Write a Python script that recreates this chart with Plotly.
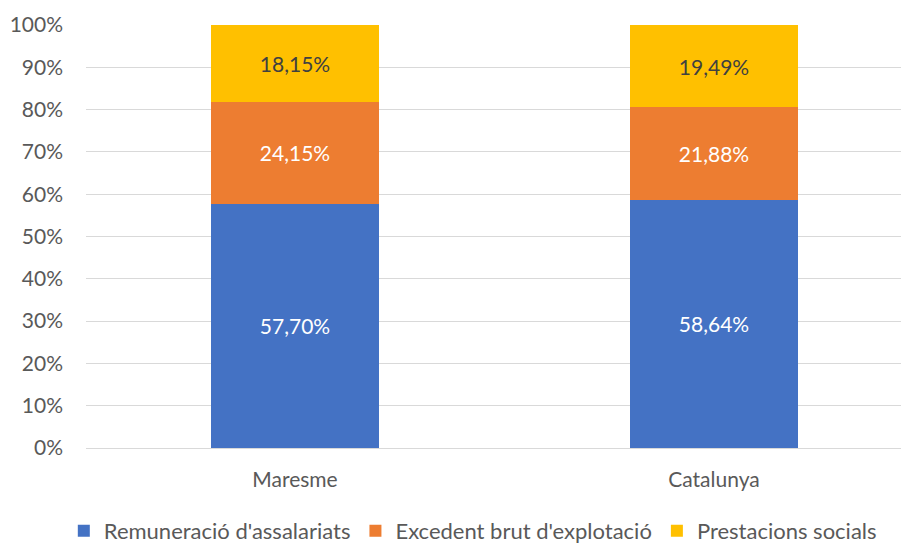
import plotly.graph_objects as go

categories = ["Maresme", "Catalunya"]
series_names = ["Remuneració d'assalariats", "Excedent brut d'explotació", "Prestacions socials"]
remuneracio = [57.70, 58.64]
excedent = [24.15, 21.88]
prestacions = [18.15, 19.49]
colors = ["#4472C4", "#ED7D31", "#FFC000"]
text_colors = ["#FFFFFF", "#FFFFFF", "#404040"]
y_ticks = [0, 10, 20, 30, 40, 50, 60, 70, 80, 90, 100]
y_tick_labels = [f"{v}%" for v in y_ticks]

FONT = "Lato"
FS = 21

fig = go.Figure()
for name, vals, col, tcol in zip(series_names, [remuneracio, excedent, prestacions], colors, text_colors):
    fig.add_trace(go.Bar(
        x=categories, y=vals, name=name,
        marker=dict(color=col, line=dict(width=0)),
        width=0.4,
        text=[f"{v:.2f}".replace(".", ",") + "%" for v in vals],
        texttemplate="%{text}",
        textposition="inside",
        insidetextanchor="middle",
        textangle=0,
        textfont=dict(family=FONT, size=FS, color=tcol),
        constraintext="none",
    ))

fig.update_layout(
    barmode="stack",
    width=901, height=535,
    margin=dict(l=78, r=0, t=17, b=95, autoexpand=False),
    paper_bgcolor="white", plot_bgcolor="white",
    font=dict(family=FONT, size=FS, color="#595959"),
    showlegend=True,
    legend=dict(orientation="h", x=0.47, xanchor="center", y=-0.196, yanchor="middle",
                font=dict(family=FONT, size=22, color="#595959"),
                traceorder="normal", itemwidth=30, tracegroupgap=0),
    uniformtext=dict(mode=False),
)
fig.update_xaxes(range=[-0.4988, 1.4654], showgrid=False, showline=False, zeroline=False,
                 automargin=False,
                 tickfont=dict(family=FONT, size=FS, color="#595959"), ticklabelstandoff=17)
fig.update_yaxes(range=[0, 100], tickvals=y_ticks, ticktext=y_tick_labels, showgrid=True,
                 automargin=False,
                 gridcolor="#D9D9D9", gridwidth=1.3, zeroline=True, zerolinecolor="#D9D9D9",
                 zerolinewidth=1.3, showline=False,
                 tickfont=dict(family=FONT, size=FS, color="#595959"), ticklabelstandoff=22)

fig.write_html("out.html")
